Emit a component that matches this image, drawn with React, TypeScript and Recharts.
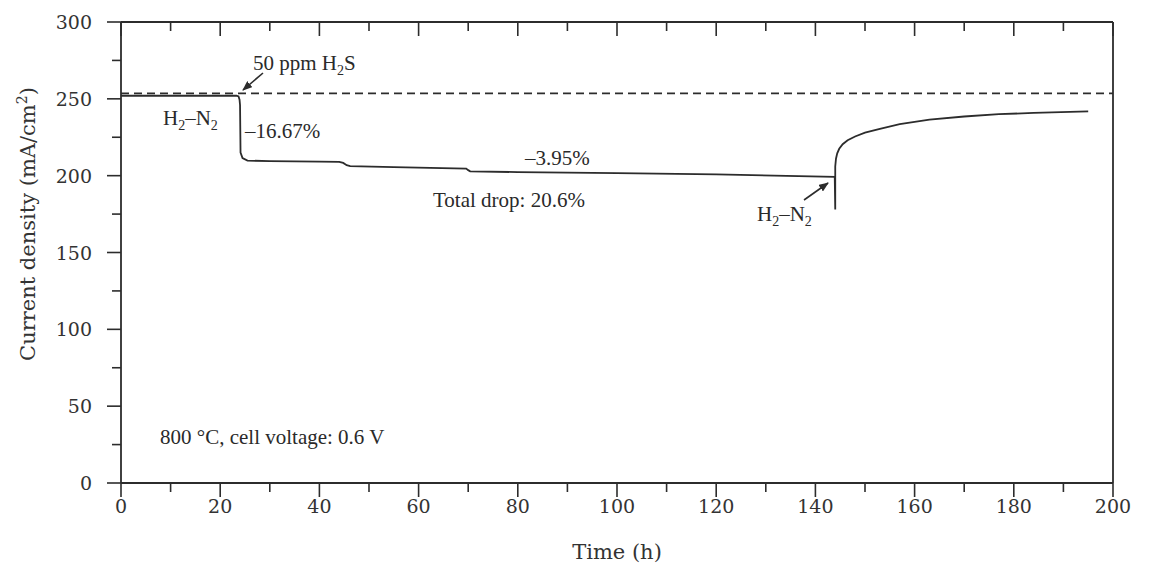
import React from 'react';
import { LineChart, Line, XAxis, YAxis, ReferenceLine } from 'recharts';

const timeH = [0, 23.3, 23.7, 23.9, 24.0, 24.1, 24.5, 25.5, 30, 40, 44.0, 44.8, 45.5, 46.2, 55, 69.6, 70.0, 70.4, 80, 100, 120, 143.9, 144.0, 144.0, 144.15, 144.4, 144.8, 145.5, 146.5, 148, 150, 153, 157, 163, 170, 177, 184, 195];
const currentDensity = [252, 252, 251.5, 249.5, 246, 215, 211.5, 209.8, 209.5, 209.2, 209, 208.3, 206.8, 206.2, 205.6, 204.6, 203.6, 202.8, 202.3, 201.6, 200.8, 199.2, 178, 206, 211, 214.5, 217.5, 220.5, 223, 225.5, 228, 230.5, 233.5, 236.5, 238.5, 240, 240.8, 241.9];
const baselineH2N2 = 253.5;
const xTicks = [0, 10, 20, 30, 40, 50, 60, 70, 80, 90, 100, 110, 120, 130, 140, 150, 160, 170, 180, 190, 200];
const yTicks = [0, 25, 50, 75, 100, 125, 150, 175, 200, 225, 250, 275, 300];

const data = timeH.map((t, i) => ({ t, j: currentDensity[i] }));

const INK = '#2c2c2c';
const TXT = '#333333';
const TICK_FONT = { fontFamily: 'DejaVu Serif', fontSize: 19, fill: TXT };
const ANN_FONT = { fontFamily: 'Liberation Serif', fontSize: 21, fill: '#2a2a2a' };

const MAJOR = 14;
const MINOR = 9;

const BottomTick = (p: any) => {
  const { x, y, payload } = p;
  const major = payload.value % 20 === 0;
  return (
    <g>
      <line x1={x} y1={y} x2={x} y2={y + (major ? MAJOR : MINOR)} stroke={INK} strokeWidth={1.6} />
      {major && (
        <text x={x} y={y + 30} textAnchor="middle" {...TICK_FONT}>{payload.value}</text>
      )}
    </g>
  );
};

const TopTick = (p: any) => {
  const { x, y, payload } = p;
  const major = payload.value % 20 === 0;
  return <line x1={x} y1={y} x2={x} y2={y + (major ? MAJOR : MINOR)} stroke={INK} strokeWidth={1.6} />;
};

const LeftTick = (p: any) => {
  const { x, y, payload } = p;
  const major = payload.value % 50 === 0;
  return (
    <g>
      <line x1={x} y1={y} x2={x - (major ? MAJOR : MINOR)} y2={y} stroke={INK} strokeWidth={1.6} />
      {major && (
        <text x={x - 29} y={y + 7} textAnchor="end" {...TICK_FONT}>{payload.value}</text>
      )}
    </g>
  );
};

const RightTick = (p: any) => {
  const { x, y, payload } = p;
  const major = payload.value % 50 === 0;
  return (
    <g>
      <line x1={x} y1={y} x2={x - (major ? MAJOR : MINOR)} y2={y} stroke={INK} strokeWidth={1.6} />
      {major && (
        <text x={x + 18} y={y + 7} textAnchor="start" {...TICK_FONT}>{payload.value}</text>
      )}
    </g>
  );
};

export default function App() {
  return (
    <div style={{ position: 'absolute', left: 0, top: 0, background: '#fff' }}>
      <LineChart width={1168} height={567} data={data} margin={{ top: 12, right: 0, bottom: 0, left: 0 }}>
        <defs>
          <marker id="arr" markerWidth="10" markerHeight="8" refX="9" refY="4" orient="auto" markerUnits="userSpaceOnUse">
            <path d="M0,0 L10,4 L0,8 Z" fill={INK} />
          </marker>
        </defs>
        <XAxis
          xAxisId="bottom"
          dataKey="t"
          type="number"
          domain={[0, 200]}
          ticks={xTicks}
          interval={0}
          height={84}
          tickSize={0}
          tickMargin={0}
          tickLine={false}
          tick={<BottomTick />}
          axisLine={{ stroke: INK, strokeWidth: 1.8 }}
        />
        <XAxis
          xAxisId="top"
          orientation="top"
          dataKey="t"
          type="number"
          domain={[0, 200]}
          ticks={xTicks}
          interval={0}
          height={10}
          tickSize={0}
          tickMargin={0}
          tickLine={false}
          tick={<TopTick />}
          axisLine={{ stroke: INK, strokeWidth: 1.8 }}
        />
        <YAxis
          yAxisId="left"
          type="number"
          domain={[0, 300]}
          ticks={yTicks}
          interval={0}
          width={121}
          tickSize={0}
          tickMargin={0}
          tickLine={false}
          tick={<LeftTick />}
          axisLine={{ stroke: INK, strokeWidth: 1.8 }}
        />
        <YAxis
          yAxisId="right"
          orientation="right"
          type="number"
          domain={[0, 300]}
          ticks={yTicks}
          interval={0}
          width={55}
          tickSize={0}
          tickMargin={0}
          tickLine={false}
          tick={<RightTick />}
          axisLine={{ stroke: INK, strokeWidth: 1.8 }}
        />
        <ReferenceLine
          xAxisId="bottom"
          yAxisId="left"
          y={baselineH2N2}
          stroke={INK}
          strokeWidth={1.8}
          strokeDasharray="8 5"
        />
        <Line
          xAxisId="bottom"
          yAxisId="left"
          dataKey="j"
          type="linear"
          stroke={INK}
          strokeWidth={1.8}
          dot={false}
          activeDot={false}
          isAnimationActive={false}
        />
        <g>
          <text x={35} y={224} transform="rotate(-90 35 224)" textAnchor="middle" fontFamily="DejaVu Serif" fontSize={21} fill={TXT}>
            Current density (mA/cm<tspan dy={-8} fontSize={14}>2</tspan><tspan dy={8}>)</tspan>
          </text>
          <text x={617} y={559} textAnchor="middle" fontFamily="DejaVu Serif" fontSize={21} fill={TXT}>Time (h)</text>

          <text x={253} y={70} {...ANN_FONT}>
            50 ppm H<tspan dy={5} fontSize={14}>2</tspan><tspan dy={-5}>S</tspan>
          </text>
          <line x1={263} y1={73} x2={243} y2={90} stroke={INK} strokeWidth={1.6} markerEnd="url(#arr)" />

          <text x={163} y={125} {...ANN_FONT}>
            H<tspan dy={5} fontSize={14}>2</tspan><tspan dy={-5}>–N</tspan><tspan dy={5} fontSize={14}>2</tspan>
          </text>
          <text x={245} y={138} {...ANN_FONT}>–16.67%</text>
          <text x={525} y={165} {...ANN_FONT}>–3.95%</text>
          <text x={433} y={207} {...ANN_FONT}>Total drop: 20.6%</text>

          <text x={757} y={221} {...ANN_FONT}>
            H<tspan dy={5} fontSize={14}>2</tspan><tspan dy={-5}>–N</tspan><tspan dy={5} fontSize={14}>2</tspan>
          </text>
          <line x1={804} y1={200} x2={828} y2={183} stroke={INK} strokeWidth={1.6} markerEnd="url(#arr)" />

          <text x={160} y={444} {...ANN_FONT}>800 °C, cell voltage: 0.6 V</text>
        </g>
      </LineChart>
    </div>
  );
}
